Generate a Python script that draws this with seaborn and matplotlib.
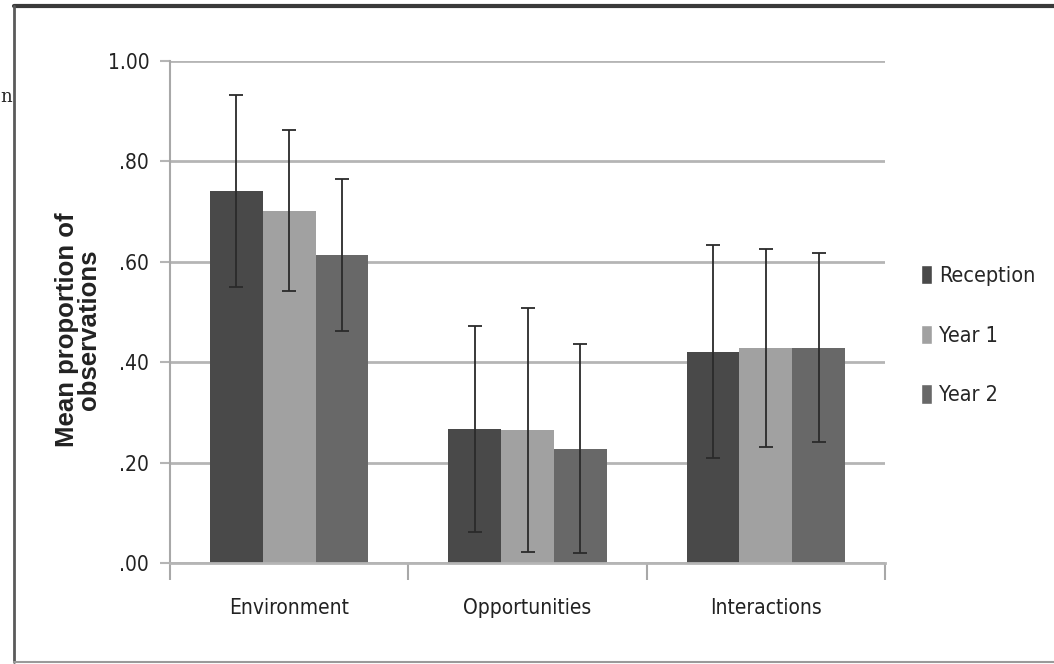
import numpy as np
import pandas as pd
import matplotlib
matplotlib.use("Agg")
import matplotlib.pyplot as plt
import seaborn as sns
from matplotlib.lines import Line2D
from matplotlib.patches import Patch

# data
categories = ["Environment", "Opportunities", "Interactions"]
groups = ["Reception", "Year 1", "Year 2"]
reception = [0.741, 0.267, 0.421]
year1 = [0.702, 0.264, 0.428]
year2 = [0.614, 0.228, 0.429]
sd_reception = [0.191, 0.206, 0.212]
sd_year1 = [0.160, 0.243, 0.197]
sd_year2 = [0.151, 0.208, 0.188]
ytick_vals = [0.0, 0.2, 0.4, 0.6, 0.8, 1.0]
ytick_labels = [".00", ".20", ".40", ".60", ".80", "1.00"]

colors = ["#494949", "#a1a1a1", "#686868"]

df = pd.DataFrame({
    "category": categories * 3,
    "group": [g for g in groups for _ in categories],
    "value": reception + year1 + year2,
})
sds = [sd_reception, sd_year1, sd_year2]

sns.set_style("white")
plt.rcParams["font.family"] = ["DejaVu Sans"]
plt.rcParams["font.stretch"] = "condensed"

fig = plt.figure(figsize=(10.54, 6.64), dpi=100)
ax = fig.add_axes([170 / 1054, 1 - 563 / 664, 715 / 1054, 502 / 664])

sns.barplot(data=df, x="category", y="value", hue="group", order=categories,
            hue_order=groups, palette=colors, width=0.665, gap=0,
            errorbar=None, saturation=1, linewidth=0, ax=ax, legend=False)

# error bars (SD) on each bar
for cont, sd in zip(ax.containers, sds):
    xs = [b.get_x() + b.get_width() / 2 for b in cont]
    ys = [b.get_height() for b in cont]
    ax.errorbar(xs, ys, yerr=sd, fmt="none", ecolor="#2a2a2a", elinewidth=1.3,
                capsize=5, capthick=1.3, zorder=5)

ax.set_xlim(-0.5, 2.5)
ax.set_ylim(0, 1.0)
ax.set_yticks(ytick_vals)
ax.set_yticklabels(ytick_labels)
ax.yaxis.grid(True, color="#b5b5b5", linewidth=2)
ax.set_axisbelow(True)
for s in ["top", "right"]:
    ax.spines[s].set_visible(False)
ax.spines["left"].set_color("#a8a8a8")
ax.spines["left"].set_linewidth(1.5)
ax.spines["bottom"].set_color("#b5b5b5")
ax.spines["bottom"].set_linewidth(2)
ax.tick_params(axis="y", length=7, width=1.5, color="#b5b5b5", pad=8,
               labelsize=15, labelcolor="#222222", left=True)
ax.set_xticks([-0.5, 0.5, 1.5, 2.5], minor=True)
ax.tick_params(axis="x", which="minor", length=12, width=1.5, color="#a8a8a8", bottom=True)
ax.tick_params(axis="x", which="major", length=0, pad=25, labelsize=15,
               labelcolor="#222222")
ax.set_xlabel("")
ax.set_ylabel("Mean proportion of\nobservations", fontsize=18.5, fontweight="bold",
              family="Liberation Sans", stretch="normal", color="#222222",
              linespacing=0.93, ha="center", va="center")
ax.yaxis.set_label_coords(-(170 - 78) / 715, (563 - 330) / 502)

handles = [Patch(facecolor=c) for c in colors]
ax.legend(handles, groups, loc="center left", bbox_to_anchor=(1.023, 0.454),
          frameon=False, handlelength=0.5, handleheight=1.0, handletextpad=0.35,
          labelspacing=1.8, fontsize=15.5)

# page frame and stray text from the source scan
fig.add_artist(Line2D([14 / 1054, 1], [1 - 6 / 664, 1 - 6 / 664], color="#3a3a3a",
                      linewidth=3, transform=fig.transFigure))
fig.add_artist(Line2D([14 / 1054, 14 / 1054], [1 - 6 / 664, 1 - 662 / 664],
                      color="#5a5a5a", linewidth=2, transform=fig.transFigure))
fig.add_artist(Line2D([14 / 1054, 1], [1 - 662 / 664, 1 - 662 / 664], color="#9a9a9a",
                      linewidth=1.5, transform=fig.transFigure))
fig.text(0.0, 1 - 97 / 664, "n", fontsize=13, family="DejaVu Serif", stretch="normal",
         va="center")

fig.savefig("out.png", dpi=100, facecolor="white")
